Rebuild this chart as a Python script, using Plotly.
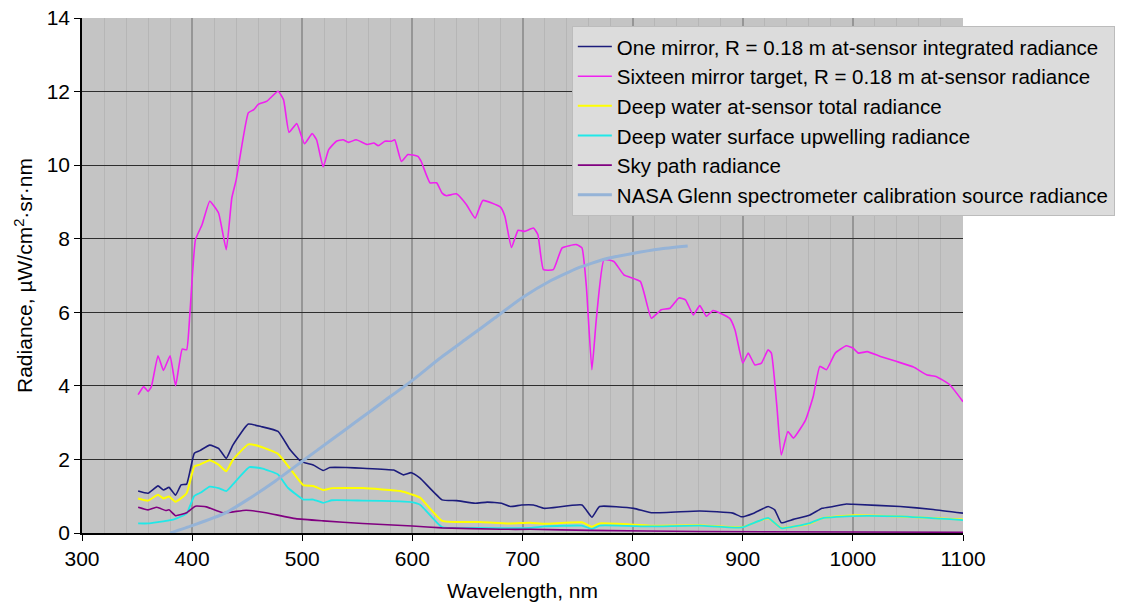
import plotly.graph_objects as go

# One mirror, R = 0.18 m at-sensor integrated radiance
one_x = [351, 360, 369, 374, 379, 385, 390, 395, 402, 407, 416, 424, 431, 437, 451, 463, 478, 489, 499,
         510, 519, 525, 540, 555, 583, 592, 599, 607, 627, 640, 657, 668, 681, 689, 699, 710, 720, 754,
         763, 770, 801, 817, 861, 891, 899, 910, 923, 929, 935, 946, 961, 972, 982, 994, 1000, 1043, 1073, 1100]
one_y = [1.14, 1.08, 1.28, 1.17, 1.24, 1.03, 1.31, 1.33, 2.17, 2.24, 2.39, 2.30, 2.03, 2.39, 2.96, 2.89, 2.76,
         2.26, 1.94, 1.85, 1.70, 1.78, 1.78, 1.76, 1.71, 1.58, 1.64, 1.49, 0.90, 0.88, 0.81, 0.84, 0.81, 0.72,
         0.76, 0.76, 0.67, 0.76, 0.43, 0.72, 0.67, 0.55, 0.60, 0.54, 0.44, 0.54, 0.72, 0.63, 0.28, 0.37, 0.49,
         0.67, 0.72, 0.79, 0.78, 0.72, 0.64, 0.54]

# Sixteen mirror target, R = 0.18 m at-sensor radiance
six_x = [351, 356, 360, 363, 369, 374, 380, 385, 391, 395, 398, 403, 409, 416, 424, 431, 436, 440, 451, 456,
         460, 468, 478, 483, 488, 495, 502, 509, 513, 519, 524, 531, 537, 542, 549, 559, 565, 569, 575, 581,
         584, 590, 596, 605, 608, 616, 622, 627, 631, 640, 649, 657, 664, 680, 684, 690, 696, 702, 710, 714,
         719, 728, 736, 749, 754, 758, 763, 767, 774, 783, 792, 807, 817, 826, 834, 842, 848, 855, 861, 867,
         873, 888, 893, 900, 905, 911, 917, 923, 926, 931, 935, 941, 946, 957, 964, 970, 976, 984, 994, 1000,
         1005, 1013, 1025, 1040, 1055, 1067, 1076, 1088, 1100]
six_y = [3.76, 3.98, 3.85, 3.98, 4.82, 4.42, 4.82, 4.00, 5.00, 4.98, 5.98, 7.97, 8.38, 9.02, 8.70, 7.70, 9.10,
         9.60, 11.42, 11.51, 11.65, 11.74, 12.01, 11.78, 10.89, 11.13, 10.58, 10.86, 10.69, 9.95, 10.42, 10.65,
         10.69, 10.62, 10.69, 10.56, 10.60, 10.53, 10.65, 10.65, 10.69, 10.10, 10.29, 10.24, 10.10, 9.52, 9.52,
         9.24, 9.17, 9.22, 8.93, 8.56, 9.04, 8.86, 8.61, 7.76, 8.23, 8.20, 8.29, 8.11, 7.16, 7.16, 7.75, 7.84,
         7.75, 6.70, 4.44, 5.80, 7.43, 7.38, 7.02, 6.84, 5.84, 6.07, 6.11, 6.39, 6.34, 5.93, 6.18, 5.89, 6.05,
         5.84, 5.52, 4.62, 4.89, 4.57, 4.62, 4.98, 4.89, 3.44, 2.12, 2.76, 2.58, 3.07, 3.71, 4.53, 4.44, 4.89,
         5.09, 5.03, 4.89, 4.93, 4.80, 4.66, 4.51, 4.30, 4.25, 4.03, 3.57]

# Deep water at-sensor total radiance
tot_x = [351, 360, 369, 374, 379, 385, 395, 402, 407, 416, 424, 431, 437, 451, 463, 478, 489, 501, 510, 519,
         527, 555, 589, 599, 607, 627, 661, 689, 707, 720, 754, 763, 770, 816, 861, 899, 923, 935, 961, 972,
         1000, 1043, 1100]
tot_y = [0.94, 0.88, 1.04, 0.94, 0.99, 0.85, 1.08, 1.81, 1.86, 1.98, 1.86, 1.68, 1.99, 2.41, 2.34, 2.15, 1.75,
         1.30, 1.28, 1.17, 1.22, 1.22, 1.14, 1.05, 0.96, 0.33, 0.30, 0.26, 0.28, 0.25, 0.29, 0.17, 0.26, 0.20,
         0.21, 0.16, 0.40, 0.14, 0.26, 0.40, 0.48, 0.45, 0.37]

# Deep water surface upwelling radiance
up_x = [351, 360, 370, 379, 386, 395, 402, 408, 416, 424, 431, 437, 452, 464, 478, 487, 501, 510, 519, 527,
        555, 589, 599, 607, 627, 661, 707, 720, 754, 763, 770, 816, 861, 899, 923, 935, 961, 972, 1000, 1043, 1100]
up_y = [0.26, 0.26, 0.30, 0.34, 0.40, 0.53, 1.01, 1.10, 1.26, 1.22, 1.14, 1.32, 1.79, 1.75, 1.59, 1.23, 0.91,
        0.91, 0.82, 0.89, 0.88, 0.86, 0.84, 0.77, 0.16, 0.14, 0.14, 0.18, 0.20, 0.11, 0.20, 0.18, 0.20, 0.15,
        0.41, 0.13, 0.27, 0.40, 0.46, 0.45, 0.35]

# Sky path radiance
sky_x = [351, 360, 368, 376, 379, 385, 395, 403, 413, 428, 449, 467, 494, 519, 555, 600, 627, 680, 707, 762,
         861, 1100]
sky_y = [0.70, 0.63, 0.70, 0.61, 0.63, 0.47, 0.55, 0.73, 0.71, 0.55, 0.62, 0.55, 0.39, 0.33, 0.26, 0.19, 0.14,
         0.10, 0.10, 0.07, 0.04, 0.02]

# NASA Glenn spectrometer calibration source radiance
glenn_x = [380, 400, 430, 450, 475, 500, 525, 550, 575, 600, 625, 650, 675, 700, 725, 750, 775, 800, 825, 850]
glenn_y = [0.0, 0.2, 0.54, 0.9, 1.4, 1.95, 2.5, 3.05, 3.6, 4.15, 4.75, 5.3, 5.85, 6.4, 6.85, 7.2, 7.45, 7.6,
           7.72, 7.8]

x_ticks = [300, 400, 500, 600, 700, 800, 900, 1000, 1100]
y_ticks = [0, 2, 4, 6, 8, 10, 12, 14]

series = [
    ("One mirror, R = 0.18 m at-sensor integrated radiance", one_x, one_y, "#1c1c7c", 1.6),
    ("Sixteen mirror target, R = 0.18 m at-sensor radiance", six_x, six_y, "#f020f0", 1.6),
    ("Deep water at-sensor total radiance", tot_x, tot_y, "#ffff00", 2),
    ("Deep water surface upwelling radiance", up_x, up_y, "#20e8e8", 1.8),
    ("Sky path radiance", sky_x, sky_y, "#800080", 1.6),
    ("NASA Glenn spectrometer calibration source radiance", glenn_x, glenn_y, "#95b3d7", 3),
]

fig = go.Figure()
for i, (name, xs, ys, col, w) in enumerate(series):
    fig.add_trace(go.Scatter(x=xs, y=ys, mode="lines", name=name,
                             line=dict(color=col, width=w, shape="spline", smoothing=0.4)))

fig.update_layout(
    width=1139, height=605,
    margin=dict(l=82, r=176, t=18, b=72),
    paper_bgcolor="white",
    plot_bgcolor="#c4c4c4",
    font=dict(family="Liberation Sans, Arial, sans-serif", size=21, color="black"),
    showlegend=True,
    legend=dict(x=0.556, y=0.985, xref="paper", yref="paper", xanchor="left", yanchor="top",
                bgcolor="#dcdcdc", bordercolor="#bcbcbc", borderwidth=1,
                font=dict(size=20.5), itemwidth=34),
    xaxis=dict(range=[300, 1100], tickvals=x_ticks, ticks="outside", ticklen=6, tickcolor="black",
               showline=True, linecolor="black", linewidth=1.5, mirror=False,
               showgrid=True, gridcolor="#969696", gridwidth=1.5,
               minor=dict(dtick=20, showgrid=True, gridcolor="#b6b6b6", gridwidth=1),
               zeroline=False, automargin=False,
               title=dict(text="Wavelength, nm", font=dict(size=21), standoff=14)),
    yaxis=dict(range=[0, 14], tickvals=y_ticks, ticks="outside", ticklen=6, tickcolor="black",
               showline=True, linecolor="black", linewidth=1.5, automargin=False,
               showgrid=True, gridcolor="#2e2e2e", gridwidth=1.2, zeroline=False,
               title=dict(text="Radiance, µW/cm<sup>2</sup>·sr·nm", font=dict(size=21), standoff=8)),
)

fig.write_html("out.html")
